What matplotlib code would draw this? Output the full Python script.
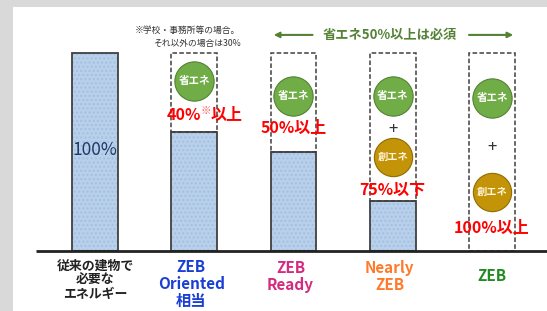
import numpy as np
import matplotlib
matplotlib.use("Agg")
import matplotlib.pyplot as plt

plt.rcParams['font.family'] = ['Noto Sans CJK JP', 'DejaVu Sans']

# data
categories = ["従来の建物で\n必要な\nエネルギー", "ZEB\nOriented\n相当", "ZEB\nReady", "Nearly\nZEB", "ZEB"]
cat_colors = ["#222222", "#1a3fd4", "#d42a80", "#ff7a2a", "#228b22"]
energy = [100, 60, 50, 25, 0]
red_labels = ["", "40%※以上", "50%以上", "75%以下", "100%以上"]
red_label_y = [0, 68.7, 62.1, 30.8, 11.6]
save_y = [None, 85.9, 78.3, 78.3, 77.3]      # 省エネ circles
create_y = [None, None, None, 47.5, 29.8]    # 創エネ circles
plus_y = [None, None, None, 61.1, 52.5]

x = np.arange(len(categories))
W = 0.463

fig = plt.figure(figsize=(5.47, 3.11), dpi=100, facecolor="#d9d9d9")
ax = fig.add_axes([13/547, 0, 534/547, 304/311])
ax.set_facecolor("white")
ax.set_xlim(-0.826, 4.554)
ax.set_ylim(-30.3, 123.2)
ax.set_xticks([])
ax.set_yticks([])
for s in ax.spines.values():
    s.set_visible(False)

# bars
ax.bar(x, energy, W, color="#b8d0ea", edgecolor="none", zorder=2)
ax.bar(x, energy, W, color="none", edgecolor="#a3bfe2", hatch="....", linewidth=0, zorder=2)
ax.bar(x[:4], energy[:4], W, color="none", edgecolor="#404040", linewidth=1.3, zorder=3)
# dashed reduction boxes
top = [100 - e for e in energy]
ax.bar(x[1:], top[1:], W, bottom=energy[1:], fill=False, edgecolor="#404040",
       linestyle=(0, (3, 1.5)), linewidth=1.1, zorder=3)

# baseline
ax.plot([-0.594, 4.6], [0, 0], color="#222222", lw=2, zorder=4, solid_capstyle="butt")

ax.text(0, 51, "100%", ha="center", va="center", fontsize=12.5, color="#1f3a68", zorder=5)

# circles
for i in range(len(categories)):
    if save_y[i] is not None:
        ax.scatter(x[i], save_y[i], s=800, color="#70ad47", edgecolor="#548235", lw=0.8, zorder=5)
        ax.text(x[i], save_y[i], "省エネ", ha="center", va="center", fontsize=7.6,
                color="white", fontweight="bold", zorder=6)
    if create_y[i] is not None:
        ax.scatter(x[i], create_y[i], s=760, color="#c39408", edgecolor="#8f6c00", lw=0.8, zorder=5)
        ax.text(x[i], create_y[i], "創エネ", ha="center", va="center", fontsize=7.4,
                color="#fff6dc", fontweight="bold", zorder=6)
    if plus_y[i] is not None:
        ax.text(x[i], plus_y[i], "+", ha="center", va="center", fontsize=12, color="#333333", zorder=6)

# red labels
ax.text(1.07, red_label_y[1], "40%", ha="right", va="center", fontsize=11.5, color="red", fontweight="bold")
ax.text(1.12, red_label_y[1] + 2, "※", ha="center", va="center", fontsize=7.5, color="#ff5555")
ax.text(1.165, red_label_y[1], "以上", ha="left", va="center", fontsize=11.5, color="red", fontweight="bold")
for i in range(2, 5):
    ax.text(x[i], red_label_y[i], red_labels[i], ha="center", va="center", fontsize=11.5,
            color="red", fontweight="bold")

# note
ax.text(0.93, 111.6, "※学校・事務所等の場合。", ha="center", va="center", fontsize=6.3, color="#333333")
ax.text(1.03, 105.0, "それ以外の場合は30%", ha="center", va="center", fontsize=6.3, color="#333333")

# green arrow
green = "#548235"
ax.annotate("", xy=(1.773, 109.1), xytext=(2.22, 109.1),
            arrowprops=dict(arrowstyle="-|>", color=green, lw=1.5, mutation_scale=8))
ax.annotate("", xy=(4.242, 109.1), xytext=(3.74, 109.1),
            arrowprops=dict(arrowstyle="-|>", color=green, lw=1.5, mutation_scale=8))
ax.text(2.97, 109.1, "省エネ50%以上は必須", ha="center", va="center", fontsize=9.5,
        color=green, fontweight="bold")

# category labels
label_x = [0, 0.97, 1.97, 2.97, 4.0]
label_y = [-14.6, -16.7, -12.9, -12.9, -12.6]
for i in range(len(categories)):
    fs = 9.3 if i == 0 else 11
    ax.text(label_x[i], label_y[i], categories[i], ha="center", va="center", fontsize=fs,
            color=cat_colors[i], fontweight="bold", linespacing=1.05)

fig.savefig("out.png", dpi=100, facecolor=fig.get_facecolor())
